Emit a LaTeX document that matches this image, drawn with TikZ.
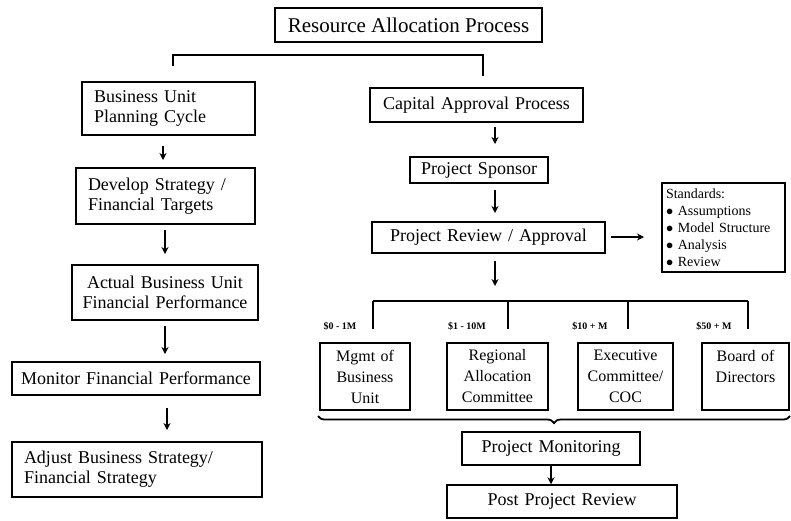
\documentclass[tikz,border=0pt]{standalone}
\usepackage{fontspec}
\setmainfont{Liberation Serif}
\usetikzlibrary{decorations.pathreplacing,arrows.meta}

\tikzstyle{box}=[draw, line width=1.5pt, inner sep=3pt, font=\fontsize{18}{20}\selectfont]
\tikzstyle{lbox}=[box, align=left, inner xsep=12pt]
\tikzstyle{cbox}=[box, align=center, inner xsep=2pt]
\tikzstyle{flow}=[-{Stealth[length=7pt,width=7pt]}, line width=1.2pt]
\tikzstyle{wire}=[line width=1.8pt]
\tikzstyle{cost}=[font=\fontsize{10}{12}\selectfont\bfseries]

\begin{document}
\begin{tikzpicture}[x=1pt, y=-1pt]
			\useasboundingbox (0,0) rectangle (791,520);
			%Title
			\node[box, font=\fontsize{21}{22}\selectfont, minimum width=267pt, minimum height=34pt, inner xsep=1pt] (title) at (408.5,25) {Resource Allocation Process};
			%Business unit side
			\node[lbox, text width=149pt, minimum height=53pt] (plan) at (168.5,108.5) {Business Unit\\Planning Cycle};
			\node[lbox, text width=155pt, minimum height=56pt] (strat) at (165.5,196) {Develop Strategy /\\Financial Targets};
			\node[cbox, text width=182pt, minimum height=55pt] (actual) at (165,292.5) {Actual Business Unit\\Financial Performance};
			\node[cbox, text width=244pt, minimum height=33pt] (monitor) at (136,378.5) {Monitor Financial Performance};
			\node[lbox, text width=226pt, minimum height=55pt] (adjust) at (137,469.5) {Adjust Business Strategy/\\Financial Strategy};
			%Capital side
			\node[cbox, text width=209pt, minimum height=34pt] (capital) at (476.5,105) {Capital Approval Process};
			\node[cbox, text width=134pt, minimum height=26pt] (sponsor) at (479,170) {Project Sponsor};
			\node[cbox, text width=229pt, minimum height=31pt] (review) at (488.5,237.5) {Project Review / Approval};
			\node[box, align=left, font=\fontsize{14}{17}\selectfont, text width=115pt, minimum height=89pt, inner xsep=4pt] (std) at (723.5,227.5)
				{Standards:\\ $\bullet$ Assumptions\\ $\bullet$ Model Structure\\ $\bullet$ Analysis\\ $\bullet$ Review};
			%Approval levels
			\foreach \pos/\name/\w/\txt in {{(365,376.5)/mgmt/86pt/{Mgmt of\\Business\\Unit}},
									{(497.5,376.5)/rac/97pt/{Regional\\Allocation\\Committee}},
									{(625.5,376.5)/exec/91pt/{Executive\\Committee/\\COC}},
									{(745.5,376.5)/board/83pt/{Board of\\Directors\\\mbox{}}}}
			\node[cbox, text width=\w, minimum height=67pt, font=\fontsize{16}{21}\selectfont] (\name) at \pos {\txt};
			\node[cbox, text width=174pt, minimum height=33pt] (pmon) at (551,448.5) {Project Monitoring};
			\node[cbox, text width=226pt, minimum height=33pt] (post) at (562,501.5) {Post Project Review};
			%Split under the title
			\coordinate (tl) at (173,55);
			\coordinate (tr) at (483,55);
			\coordinate (bl) at (173,66);
			\coordinate (br) at (483,76);
			\draw[wire] (bl) -- (tl) -- (tr) -- (br);
			%Arrows down the left column
			\foreach \xa/\ya/\yb/\n in {163/146/160/1, 165/230/254/2, 165/326/354/3, 167/408/430/4}
			{
				\coordinate (la\n) at (\xa,\ya);
				\coordinate (lb\n) at (\xa,\yb);
				\draw[flow] (la\n) -- (lb\n);
			}
			%Arrows down the right column
			\foreach \ya/\yb/\n in {127/144/1, 190/213/2, 261/286/3}
			{
				\coordinate (ra\n) at (495,\ya);
				\coordinate (rb\n) at (495,\yb);
				\draw[flow] (ra\n) -- (rb\n);
			}
			\coordinate (sa) at (611,237);
			\coordinate (sb) at (644,237);
			\draw[flow] (sa) -- (sb);
			%Branch to the approval levels
			\coordinate (bra) at (373,301);
			\coordinate (brb) at (748,301);
			\draw[wire] (bra) -- (brb);
			\foreach \x/\n in {373/1, 508/2, 628/3, 748/4}
			{
				\coordinate (d\n) at (\x,301);
				\coordinate (e\n) at (\x,329);
				\draw[wire] (d\n) -- (e\n);
			}
			\foreach \pos/\name/\txt in {{(340,326)/c1/\$0 - 1M}, {(467,326)/c2/\$1 - 10M},
									{(590,326)/c3/\$10 + M}, {(714,326)/c4/\$50 + M}}
			\node[cost] (\name) at \pos {\txt};
			%Brace and the monitoring steps
			\draw[wire, decorate, decoration={brace, mirror, amplitude=7pt}] (318,416) -- (790,416);
			\draw[flow] (pmon.south) -- (pmon.south |- post.north);
		\end{tikzpicture}
\end{document}
